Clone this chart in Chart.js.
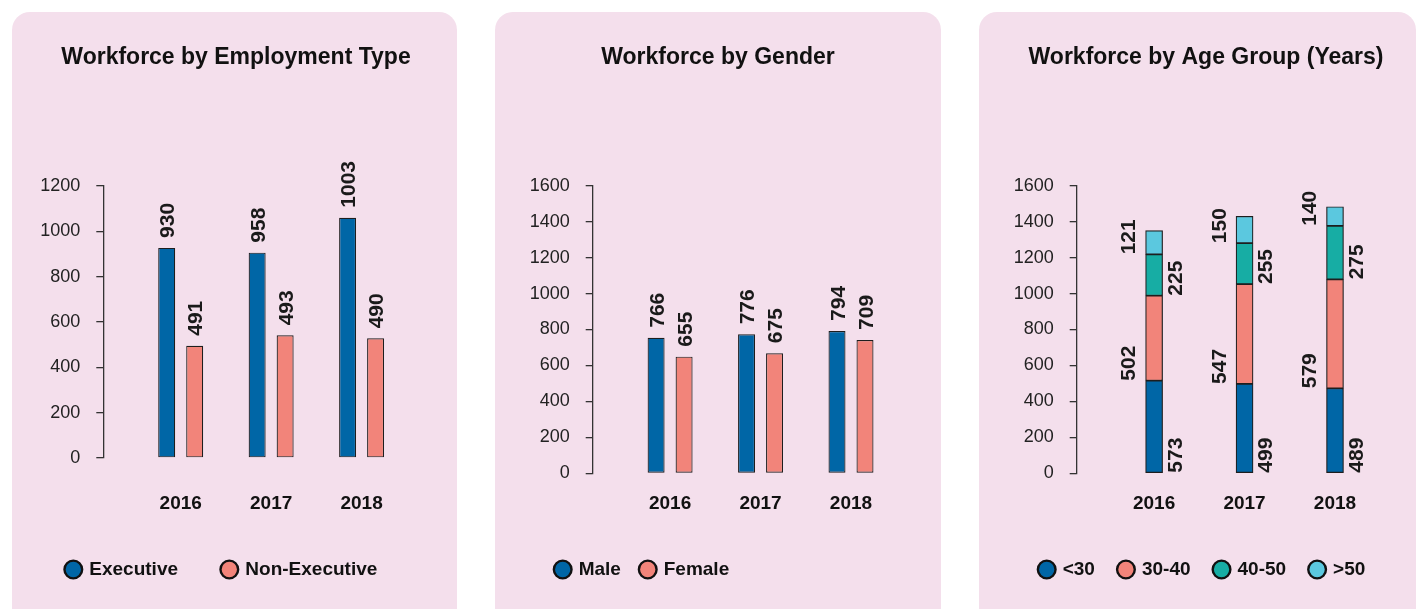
<!DOCTYPE html>
<html><head><meta charset="utf-8">
<script src="https://cdn.jsdelivr.net/npm/chart.js@4"></script>
<style>
html,body{margin:0;padding:0;background:#fff;width:1416px;height:609px;overflow:hidden;position:relative}
.panel{position:absolute;top:12px;height:640px;background:#f4dfec;border-radius:18px}
canvas{position:absolute;top:12px}
</style></head><body>
<div class="panel" style="left:12px;width:445px"></div>
<div class="panel" style="left:495px;width:446px"></div>
<div class="panel" style="left:979px;width:437px"></div>
<canvas id="c1" width="445" height="597" style="left:12px"></canvas>
<canvas id="c2" width="446" height="597" style="left:495px"></canvas>
<canvas id="c3" width="446" height="597" style="left:979px"></canvas>
<script>
// ---- data ----
const years = ['2016', '2017', '2018'];

const executive = [927, 906, 1060];
const nonExecutive = [495, 541, 528];
const executiveLabels = ['930', '958', '1003'];
const nonExecutiveLabels = ['491', '493', '490'];

const male = [754, 773, 792];
const female = [649, 668, 742];
const maleLabels = ['766', '776', '794'];
const femaleLabels = ['655', '675', '709'];

const ageUnder30 = [515, 497, 473];
const age30to40 = [473, 556, 606];
const age40to50 = [230, 227, 298];
const ageOver50 = [132, 150, 106];
const ageUnder30Labels = ['573', '499', '489'];
const age30to40Labels = ['502', '547', '579'];
const age40to50Labels = ['225', '255', '275'];
const ageOver50Labels = ['121', '150', '140'];

// ---- styles ----
const BLUE = '#0066a6', SALMON = '#f2847a', TEAL = '#17ada4', SKY = '#5bc8df', EDGE = '#1e1e1e';
const FONT = '"Liberation Sans", Arial, Helvetica, sans-serif';
Chart.defaults.font.family = FONT;

const barLabels = {
  id: 'barLabels',
  afterDatasetsDraw(chart, args, opts) {
    const ctx = chart.ctx;
    ctx.save();
    ctx.font = 'bold 21px ' + FONT;
    ctx.fillStyle = '#1a1a1a';
    ctx.textAlign = 'left';
    ctx.textBaseline = 'middle';
    chart.data.datasets.forEach((ds, di) => {
      const meta = chart.getDatasetMeta(di);
      meta.data.forEach((bar, i) => {
        const text = ds.valueLabels[i];
        let x, y;
        if (opts.mode === 'side') {
          x = di % 2 === 0 ? bar.x + opts.right : bar.x - opts.left;
          y = bar.base;
        } else {
          x = bar.x + opts.dx;
          y = bar.y - opts.gap;
        }
        ctx.save();
        ctx.translate(x, y);
        ctx.rotate(-Math.PI / 2);
        ctx.fillText(text, 0, 0);
        ctx.restore();
      });
    });
    ctx.restore();
  }
};

const spacing = 90.45, firstOffset = 77.4;
const xMin = Number(years[0]) - firstOffset / spacing;

function ds(label, data, color, valueLabels) {
  return { label, data, backgroundColor: color, borderColor: EDGE, borderWidth: 1.2, borderSkipped: false, valueLabels };
}

function build(id, o) {
  const canvas = document.getElementById(id);
  const W = canvas.width;
  new Chart(canvas, {
    type: 'bar',
    data: { labels: years, datasets: o.datasets },
    options: {
      responsive: false, animation: false, devicePixelRatio: 1,
      layout: { padding: { left: o.padL, right: o.padR, top: 0, bottom: 20 } },
      datasets: { bar: o.barOpts },
      scales: {
        x: {
          type: 'linear', offset: false, stacked: o.stacked,
          min: xMin, max: xMin + (W - o.padR - o.axisLeft) / spacing,
          grid: { display: false, drawTicks: false, offset: false }, border: { display: false },
          ticks: { padding: o.xTickPad, font: { size: 19, weight: 'bold' }, color: '#111',
                   stepSize: 1, includeBounds: false, callback: v => String(v) },
          afterBuildTicks: s => { s.ticks = years.map(y => ({ value: Number(y) })); },
          afterFit: s => { s.height = o.xAxisH; }
        },
        y: {
          min: 0, max: o.yMax, stacked: o.stacked,
          ticks: { stepSize: 200, padding: 16, font: { size: 18 }, color: '#222', callback: v => String(v) },
          grid: { drawOnChartArea: false, drawTicks: true, tickLength: 7, color: '#333', lineWidth: 1.3 },
          border: { display: true, color: '#333', width: 1.3 },
          afterFit: s => {
            s.width = o.axisLeft - o.padL;
            s._computeLabelArea = () => undefined; // do not clip tick labels to the axis box
          }
        }
      },
      plugins: {
        title: { display: true, text: o.title, font: { size: 23, weight: 'bold' }, color: '#111',
                 padding: { top: 32, bottom: o.titlePb - 1.8 } },
        legend: {
          position: 'bottom', align: 'start',
          labels: {
            font: { size: 19, weight: 'bold' }, color: '#111',
            usePointStyle: true, pointStyle: 'circle', boxWidth: 13, boxHeight: 12.5, padding: o.legendPad,
            generateLabels: chart => Chart.defaults.plugins.legend.labels.generateLabels(chart)
              .map(l => Object.assign(l, { lineWidth: 2.4, strokeStyle: '#111' }))
          }
        },
        tooltip: { enabled: false },
        barLabels: o.labelOpts
      }
    },
    plugins: [barLabels]
  });
}

const groupedBars = { categoryPercentage: 0.619, barPercentage: 0.607 };

build('c1', {
  title: 'Workforce by Employment Type',
  datasets: [ds('Executive', executive, BLUE, executiveLabels), ds('Non-Executive', nonExecutive, SALMON, nonExecutiveLabels)],
  yMax: 1200, stacked: false, barOpts: groupedBars,
  padL: 10, padR: 7, axisLeft: 91.3, titlePb: 116.2, legendPad: 44.8, xAxisH: 57.2, xTickPad: 34.3,
  labelOpts: { mode: 'top', dx: 2, gap: 10 }
});

build('c2', {
  title: 'Workforce by Gender',
  datasets: [ds('Male', male, BLUE, maleLabels), ds('Female', female, SALMON, femaleLabels)],
  yMax: 1600, stacked: false, barOpts: groupedBars,
  padL: 40.9, padR: 40.9, axisLeft: 97.7, titlePb: 115.9, legendPad: 20.3, xAxisH: 66.4, xTickPad: 19,
  labelOpts: { mode: 'top', dx: 2, gap: 10 }
});

build('c3', {
  title: 'Workforce by Age Group (Years)',
  datasets: [
    ds('<30', ageUnder30, BLUE, ageUnder30Labels),
    ds('30-40', age30to40, SALMON, age30to40Labels),
    ds('40-50', age40to50, TEAL, age40to50Labels),
    ds('>50', ageOver50, SKY, ageOver50Labels)
  ],
  yMax: 1600, stacked: true, barOpts: { barThickness: 17 },
  padL: 36.7, padR: 28.7, axisLeft: 97.7, titlePb: 115.9, legendPad: 24.5, xAxisH: 62.2, xTickPad: 19,
  labelOpts: { mode: 'side', right: 22, left: 24.5 }
});
</script>
</body></html>
